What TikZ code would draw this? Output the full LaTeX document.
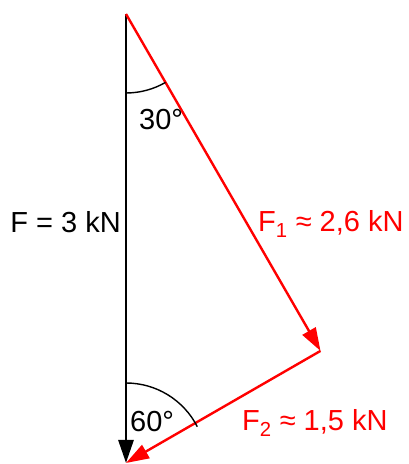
\documentclass[tikz,border=0pt]{standalone}
\usepackage{fontspec}
\setmainfont{Liberation Sans}
\usetikzlibrary{arrows.meta}
\begin{document}
\begin{tikzpicture}[x=1pt,y=1pt,
  lbl/.style={inner sep=0pt,font=\fontsize{29}{34}\selectfont},
  force/.style={line width=2.8pt,-{Triangle[length=23pt,width=15pt]}},
  redforce/.style={force,red,line width=2.4pt},
  anglearc/.style={line width=1.4pt}]
\useasboundingbox (0,0) rectangle (409,464);
\coordinate (A) at (126,450);
\coordinate (B) at (126,1);
\coordinate (C) at (320.5,113.1);
\draw[force] (A) -- (B);
\draw[redforce] (A) -- (C);
\draw[redforce] (C) -- (B);
\draw[anglearc] ([shift={(-90:79)}]A) arc[start angle=-90,end angle=-60,radius=79];
\draw[anglearc] ([shift={(90:80)}]B) arc[start angle=90,end angle=27,radius=80];
\node[lbl,anchor=base east] (Flabel) at (121,464-233) {F = 3 kN};
\node[lbl,anchor=base west] (a30) at (139,464-130) {30°};
\node[lbl,anchor=base west] (a60) at (130,464-432) {60°};
\node[lbl,anchor=base west,red] (F1) at (258,464-232) {F\textsubscript{1} ≈ 2,6 kN};
\node[lbl,anchor=base west,red] (F2) at (242,464-431) {F\textsubscript{2} ≈ 1,5 kN};
\end{tikzpicture}
\end{document}
